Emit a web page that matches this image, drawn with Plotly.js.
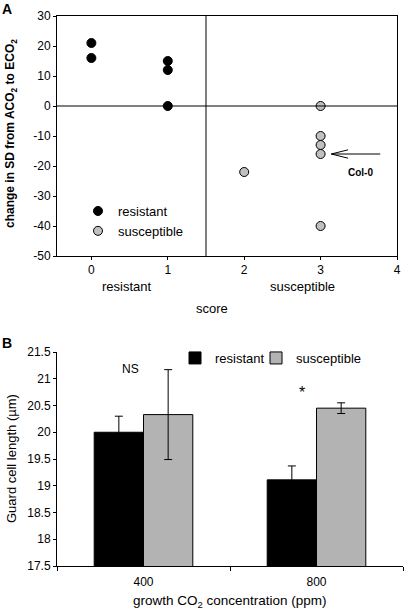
<!DOCTYPE html>
<html><head><meta charset="utf-8">
<script src="https://cdn.plot.ly/plotly-3.0.1.min.js"></script>
<style>html,body{margin:0;padding:0;background:#fff}#c{width:404px;height:610px}</style>
</head><body><div id="c"></div>
<script>
// Panel A data
const resistantScore = [0, 0, 1, 1, 1];
const resistantChange = [21, 16, 15, 12, 0];
const susceptibleScore = [2, 3, 3, 3, 3, 3];
const susceptibleChange = [-22, 0, -10, -13, -16, -40];
const scoreTicks = [0, 1, 2, 3, 4];
const changeTicks = [-50, -40, -30, -20, -10, 0, 10, 20, 30];
const changeTickText = ['-50', '-40', '-30', '-20', '-10', '0', '10', '20', '30'];
// Panel B data
const co2Levels = ['400', '800'];
const resistantLength = [20.0, 19.11];
const resistantErr = [0.30, 0.26];
const susceptibleLength = [20.33, 20.45];
const susceptibleErr = [0.84, 0.10];
const lengthTicks = [17.5, 18, 18.5, 19, 19.5, 20, 20.5, 21, 21.5];

const W = 404, H = 610;
const px = x => x / W, py = y => 1 - y / H;
const F = 'Liberation Sans, Arial, sans-serif';
const GRAY = '#b3b3b3';

const traces = [
  {type: 'scatter', mode: 'markers', x: resistantScore, y: resistantChange, name: 'resistant',
   xaxis: 'x', yaxis: 'y', legend: 'legend',
   marker: {color: '#000', size: 9, line: {color: '#000', width: 1}}},
  {type: 'scatter', mode: 'markers', x: susceptibleScore, y: susceptibleChange, name: 'susceptible',
   xaxis: 'x', yaxis: 'y', legend: 'legend',
   marker: {color: '#c0c0c0', size: 9, line: {color: '#000', width: 1}}},
  {type: 'bar', x: co2Levels, y: resistantLength, name: 'resistant', xaxis: 'x2', yaxis: 'y2', legend: 'legend2',
   marker: {color: '#000', line: {color: '#000', width: 1}},
   error_y: {type: 'data', array: resistantErr, visible: true, color: '#000', thickness: 1, width: 4}},
  {type: 'bar', x: co2Levels, y: susceptibleLength, name: 'susceptible', xaxis: 'x2', yaxis: 'y2', legend: 'legend3',
   marker: {color: GRAY, line: {color: '#000', width: 1}},
   error_y: {type: 'data', array: susceptibleErr, visible: true, color: '#000', thickness: 1, width: 4}}
];

const axisCommon = {showgrid: false, zeroline: false, showline: true, linecolor: '#000', linewidth: 1,
  ticks: 'outside', ticklen: 3, tickcolor: '#000', tickfont: {family: F, size: 12, color: '#000'}};

const legFont = {family: F, size: 13, color: '#000'};
const ann = (text, x, y, size, extra) => Object.assign({text, xref: 'paper', yref: 'paper', x: px(x), y: py(y),
  xanchor: 'center', yanchor: 'middle', showarrow: false, font: {family: F, size, color: '#000'}}, extra || {});

const layout = {
  width: W, height: H, margin: {l: 0, r: 0, t: 0, b: 0},
  paper_bgcolor: '#fff', plot_bgcolor: '#fff',
  font: {family: F, color: '#000'},
  barmode: 'group', bargap: 0.43, bargroupgap: 0,
  xaxis: Object.assign({}, axisCommon, {domain: [px(57), px(397)], range: [-0.45, 4], anchor: 'y',
    tickmode: 'array', tickvals: scoreTicks, mirror: true}),
  yaxis: Object.assign({}, axisCommon, {domain: [py(256), py(16)], range: [-50, 30], anchor: 'x',
    tickmode: 'array', tickvals: changeTicks, ticktext: changeTickText, mirror: true}),
  xaxis2: Object.assign({}, axisCommon, {domain: [px(57), px(403)], range: [-0.5, 1.5], anchor: 'y2',
    type: 'category', tickson: 'boundaries', ticklen: 4, ticklabelstandoff: 5}),
  yaxis2: Object.assign({}, axisCommon, {domain: [py(566), py(352)], range: [17.5, 21.5], anchor: 'x2',
    tickmode: 'array', tickvals: lengthTicks}),
  showlegend: true,
  legend: {x: px(78), y: py(196), xanchor: 'left', yanchor: 'top', bgcolor: 'rgba(0,0,0,0)',
    font: legFont, tracegroupgap: 0},
  legend2: {orientation: 'h', x: px(175), y: py(343), xanchor: 'left', yanchor: 'top', bgcolor: 'rgba(0,0,0,0)',
    font: legFont},
  legend3: {orientation: 'h', x: px(256), y: py(343), xanchor: 'left', yanchor: 'top', bgcolor: 'rgba(0,0,0,0)',
    font: legFont},
  shapes: [
    {type: 'line', xref: 'x', yref: 'y', x0: 1.5, x1: 1.5, y0: -50, y1: 30, line: {color: '#000', width: 1}},
    {type: 'line', xref: 'x', yref: 'y', x0: -0.45, x1: 4, y0: 0, y1: 0, line: {color: '#000', width: 1}},
    {type: 'line', xref: 'x', yref: 'y', x0: 3.14, x1: 3.78, y0: -16, y1: -16, line: {color: '#000', width: 1}},
    {type: 'line', xref: 'x', yref: 'y', x0: 3.14, x1: 3.36, y0: -16, y1: -14.6, line: {color: '#000', width: 1}},
    {type: 'line', xref: 'x', yref: 'y', x0: 3.14, x1: 3.36, y0: -16, y1: -17.4, line: {color: '#000', width: 1}}
  ],
  annotations: [
    ann('<b>A</b>', 7, 9, 14),
    ann('<b>B</b>', 7, 343, 14),
    ann('<b>change in SD from ACO<sub>2</sub> to ECO<sub>2</sub></b>', 11, 134, 12, {textangle: -90}),
    ann('resistant', 127, 287, 13),
    ann('susceptible', 302, 287, 13),
    ann('score', 212, 308, 13),
    {text: '<b>Col-0</b>', xref: 'x', yref: 'y', x: 3.52, y: -22, xanchor: 'center', yanchor: 'middle',
     showarrow: false, font: {family: F, size: 10, color: '#000'}},
    ann('Guard cell length (µm)', 11, 459, 13, {textangle: -90}),
    ann('growth CO<sub>2</sub> concentration (ppm)', 230, 601, 13.5),
    {text: 'NS', xref: 'x2', yref: 'y2', x: -0.075, y: 21.18, xanchor: 'center', yanchor: 'middle',
     showarrow: false, font: {family: F, size: 12, color: '#000'}},
    {text: '*', xref: 'x2', yref: 'y2', x: 0.915, y: 20.75, xanchor: 'center', yanchor: 'middle',
     showarrow: false, font: {family: F, size: 16, color: '#000'}}
  ]
};

Plotly.newPlot('c', traces, layout, {staticPlot: true, displayModeBar: false});
</script></body></html>
